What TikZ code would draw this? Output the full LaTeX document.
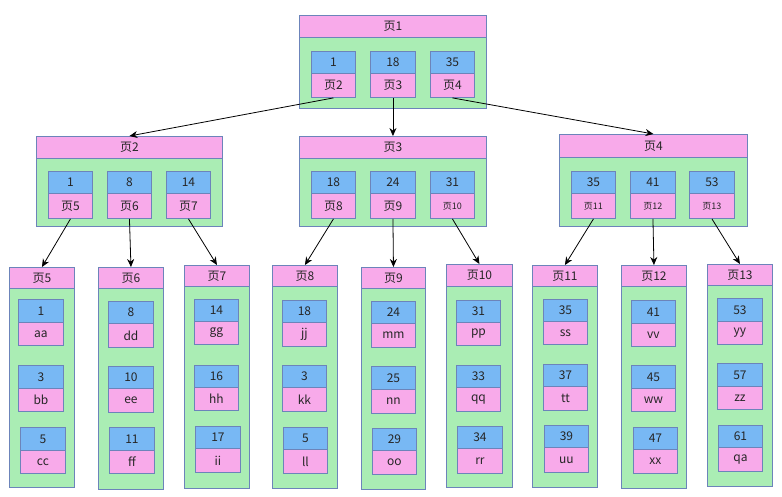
\documentclass[tikz,border=0pt]{standalone}
\usepackage{fontspec}
\setmainfont{Noto Sans CJK SC}
\usetikzlibrary{arrows.meta}
\definecolor{pinkf}{RGB}{248,170,234}
\definecolor{greenf}{RGB}{170,237,180}
\definecolor{bluef}{RGB}{120,184,244}
\definecolor{strokec}{RGB}{108,132,186}
\tikzset{
  base/.style={draw=strokec, line width=0.9pt, inner sep=0pt, anchor=north west, font=\fontsize{12}{13}\selectfont, text=black!85},
  hdr/.style={base, fill=pinkf},
  body/.style={base, fill=greenf},
  keyb/.style={base, fill=bluef},
  valb/.style={base, fill=pinkf},
  small/.style={font=\fontsize{9}{10}\selectfont},
  link/.style={-{Stealth[length=8pt,width=7pt]}, line width=0.8pt, black}
}
% name, x, y, w, hh, bodyh, text
\newcommand\pagebox[7]{%
  \node[body, minimum width=#4pt, minimum height=#6pt] (#1b) at (#2,#3+#5) {};
  \node[hdr, minimum width=#4pt, minimum height=#5pt] (#1) at (#2,#3) {#7};}
% name, x, y, w, kh, vh, key, val, extra style for val
\newcommand\entrybox[9]{%
  \node[keyb, minimum width=#4pt, minimum height=#5pt] (#1k) at (#2,#3) {#7};
  \node[valb, minimum width=#4pt, minimum height=#6pt, #9] (#1) at (#2,#3+#5) {#8};}
\begin{document}
\begin{tikzpicture}[x=1pt,y=-1pt]
\useasboundingbox (0,0) rectangle (782,496);
% level 1
\pagebox{p1}{299}{15}{187}{22}{71}{页1}
\entrybox{e12}{311}{51}{44}{22}{24}{1}{页2}{}
\entrybox{e13}{370}{51}{45}{22}{24}{18}{页3}{}
\entrybox{e14}{430}{51}{44}{22}{24}{35}{页4}{}
% level 2
\pagebox{p2}{36}{136}{186}{22}{68}{页2}
\entrybox{e25}{48}{171}{44}{22}{25}{1}{页5}{}
\entrybox{e26}{107}{171}{44}{22}{25}{8}{页6}{}
\entrybox{e27}{166}{171}{44}{22}{25}{14}{页7}{}
\pagebox{p3}{299}{136}{187}{22}{68}{页3}
\entrybox{e38}{311}{171}{44}{22}{25}{18}{页8}{}
\entrybox{e39}{370}{171}{45}{22}{25}{24}{页9}{}
\entrybox{e310}{430}{171}{44}{22}{25}{31}{页10}{small}
\pagebox{p4}{559}{134}{188}{23}{69}{页4}
\entrybox{e411}{571}{171}{44}{22}{25}{35}{页11}{small}
\entrybox{e412}{630}{171}{45}{22}{25}{41}{页12}{small}
\entrybox{e413}{689}{171}{45}{22}{25}{53}{页13}{small}
% leaves
\pagebox{p5}{9}{267}{65}{21}{199}{页5}
\entrybox{l51}{18}{299}{45}{23}{23}{1}{aa}{}
\entrybox{l52}{18}{365}{45}{23}{23}{3}{bb}{}
\entrybox{l53}{20}{427}{45}{23}{23}{5}{cc}{}
\pagebox{p6}{98}{267}{65}{21}{201}{页6}
\entrybox{l61}{108}{301}{45}{22}{24}{8}{dd}{}
\entrybox{l62}{108}{366}{45}{22}{24}{10}{ee}{}
\entrybox{l63}{109}{427}{45}{23}{23}{11}{ff}{}
\pagebox{p7}{184}{265}{65}{21}{202}{页7}
\entrybox{l71}{194}{299}{44}{22}{23}{14}{gg}{}
\entrybox{l72}{194}{365}{44}{22}{23}{16}{hh}{}
\entrybox{l73}{195}{426}{45}{22}{24}{17}{ii}{}
\pagebox{p8}{272}{265}{65}{21}{202}{页8}
\entrybox{l81}{282}{300}{44}{22}{24}{18}{jj}{}
\entrybox{l82}{282}{365}{44}{22}{24}{3}{kk}{}
\entrybox{l83}{283}{427}{44}{22}{24}{5}{ll}{}
\pagebox{p9}{361}{267}{64}{21}{201}{页9}
\entrybox{l91}{371}{301}{44}{22}{24}{24}{mm}{}
\entrybox{l92}{371}{366}{44}{23}{24}{25}{nn}{}
\entrybox{l93}{372}{428}{44}{22}{24}{29}{oo}{}
\pagebox{p10}{446}{264}{66}{22}{201}{页10}
\entrybox{l101}{456}{300}{44}{22}{23}{31}{pp}{}
\entrybox{l102}{456}{365}{44}{22}{24}{33}{qq}{}
\entrybox{l103}{457}{426}{45}{22}{25}{34}{rr}{}
\pagebox{p11}{532}{265}{65}{21}{201}{页11}
\entrybox{l111}{543}{299}{44}{22}{23}{35}{ss}{}
\entrybox{l112}{543}{364}{44}{22}{24}{37}{tt}{}
\entrybox{l113}{544}{425}{44}{22}{25}{39}{uu}{}
\pagebox{p12}{621}{265}{65}{21}{202}{页12}
\entrybox{l121}{631}{300}{44}{23}{23}{41}{vv}{}
\entrybox{l122}{631}{365}{44}{23}{23}{45}{ww}{}
\entrybox{l123}{633}{427}{44}{22}{24}{47}{xx}{}
\pagebox{p13}{707}{264}{65}{21}{201}{页13}
\entrybox{l131}{717}{298}{45}{23}{23}{53}{yy}{}
\entrybox{l132}{717}{363}{45}{23}{23}{57}{zz}{}
\entrybox{l133}{718}{425}{44}{22}{24}{61}{qa}{}
% links
\draw[link] (e12.south) -- (p2.north);
\draw[link] (e13.south) -- (p3.north);
\draw[link] (e14.south) -- (p4.north);
\draw[link] (e25.south) -- (p5.north);
\draw[link] (e26.south) -- (p6.north);
\draw[link] (e27.south) -- (p7.north);
\draw[link] (e38.south) -- (p8.north);
\draw[link] (e39.south) -- (p9.north);
\draw[link] (e310.south) -- (p10.north);
\draw[link] (e411.south) -- (p11.north);
\draw[link] (e412.south) -- (p12.north);
\draw[link] (e413.south) -- (p13.north);
\end{tikzpicture}
\end{document}
